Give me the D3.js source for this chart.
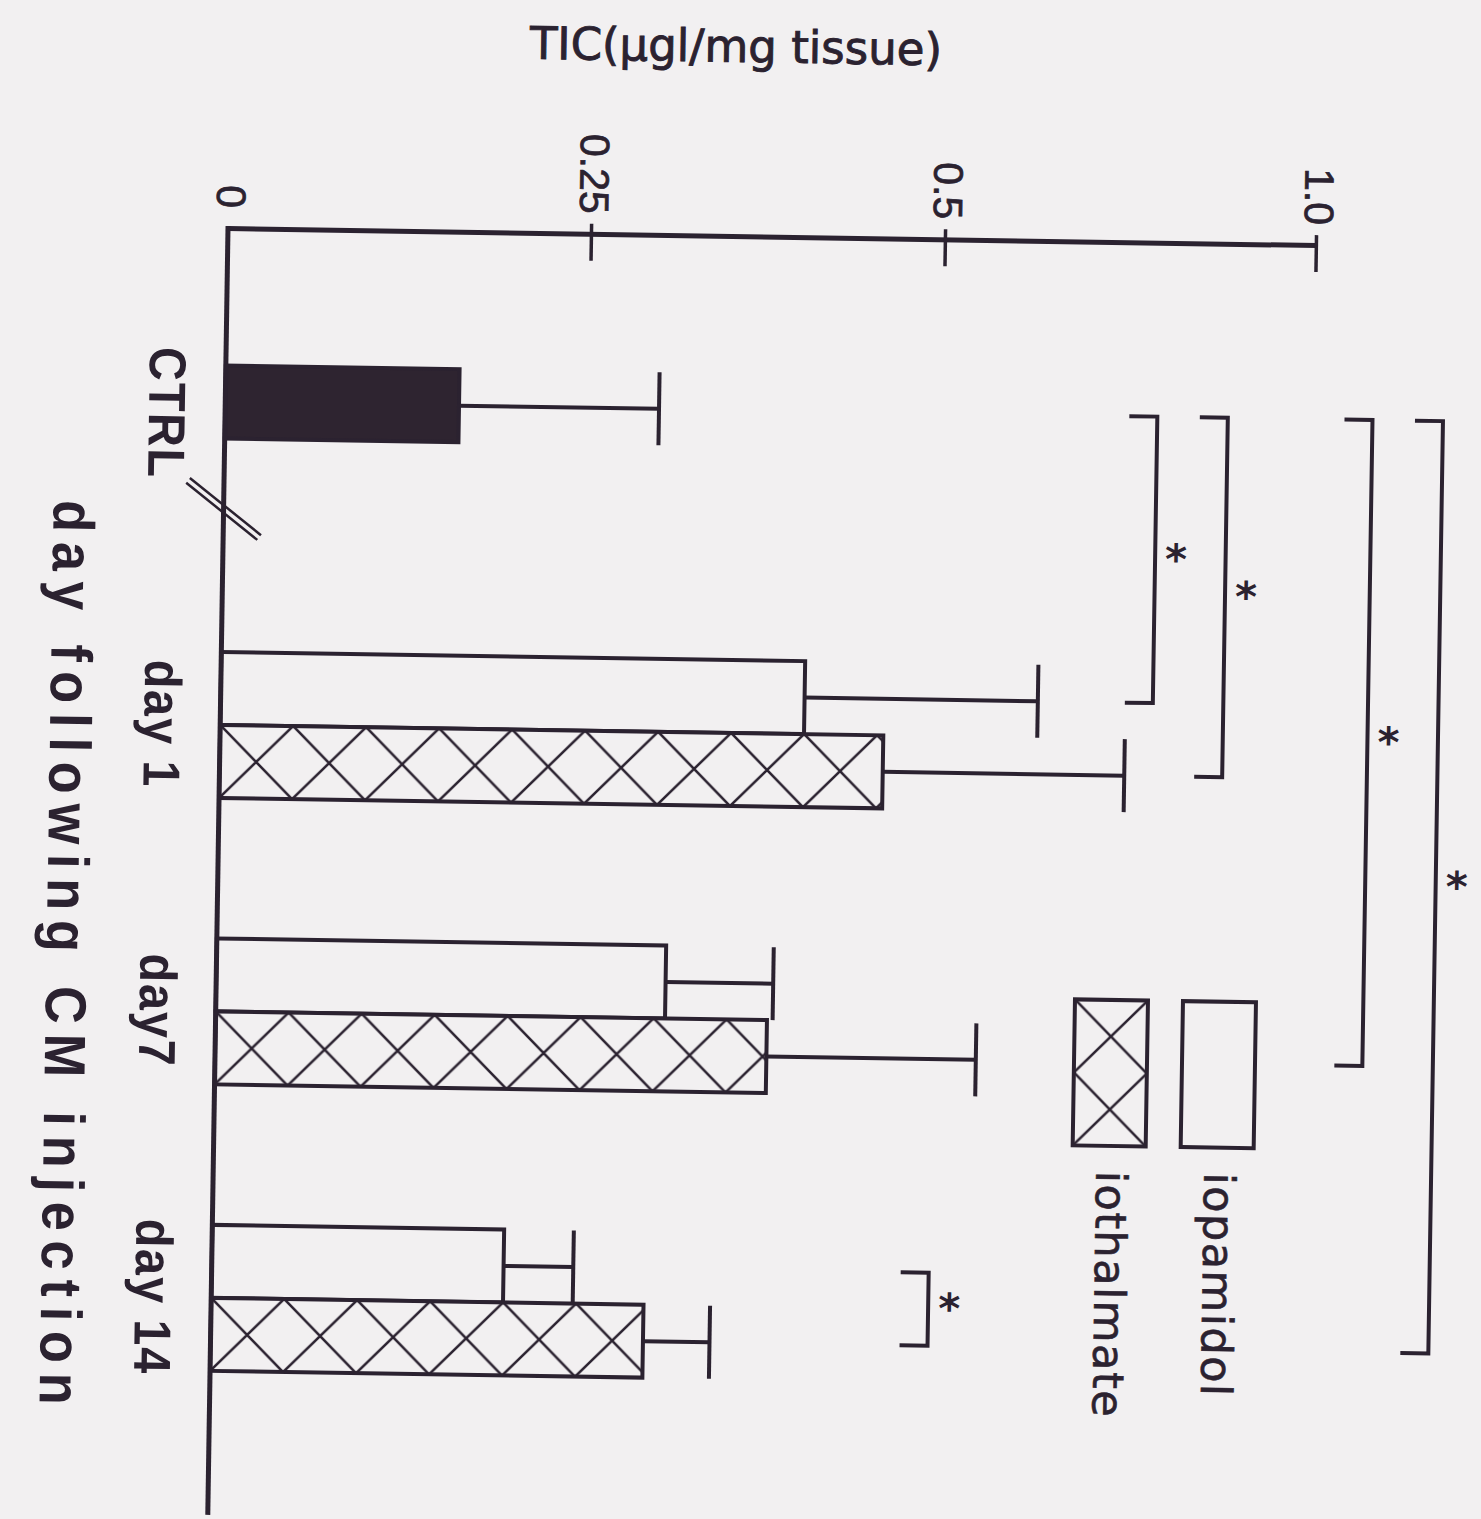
<!DOCTYPE html>
<html><head><meta charset="utf-8">
<script src="https://cdn.jsdelivr.net/npm/d3@7"></script>
<style>html,body{margin:0;padding:0;background:#f2f0f1;} svg{display:block}</style>
</head><body>
<svg id="chart" width="1481" height="1519"></svg>
<script>
// ---------------- data ----------------
const categories = ["CTRL", "day 1", "day7", "day 14"];
const seriesNames = ["iopamidol", "iothalmate"];
const controlMean = 0.161;
const controlSem = 0.139;
const days = ["day 1", "day7", "day 14"];
const iopamidolMean = [0.406, 0.311, 0.201];
const iopamidolSem  = [0.229, 0.076, 0.048];
const iothalmateMean = [0.462, 0.383, 0.299];
const iothalmateSem  = [0.291, 0.176, 0.047];
const tickValues = [0, 0.25, 0.5, 1.0];
const tickLabels = ["0", "0.25", "0.5", "1.0"];
const comparisons = [
  {a: ["CTRL", "iopamidol"], b: ["day 1", "iopamidol"], level: 0.79},
  {a: ["CTRL", "iopamidol"], b: ["day 1", "iothalmate"], level: 0.885},
  {a: ["CTRL", "iopamidol"], b: ["day7", "iothalmate"], level: 1.08},
  {a: ["CTRL", "iopamidol"], b: ["day 14", "iothalmate"], level: 1.175},
  {a: ["day 14", "iopamidol"], b: ["day 14", "iothalmate"], level: 0.50}
];
const titleText = "TIC(\u00b5gl/mg tissue)";
const xTitleText = "day following CM injection";

// ---------------- styles ----------------
const INK = "#2b2230";
const BG = "#f2f0f1";
const svg = d3.select("#chart");
svg.append("rect").attr("width", 1481).attr("height", 1519).attr("fill", BG);
const defs = svg.append("defs");

// whole scanned page is tilted slightly
const g = svg.append("g").attr("transform", "rotate(0.9,228,228)");

// ---------------- scales ----------------
const x = d3.scaleLinear().domain([0, 0.25, 0.5, 1.0]).range([228, 591, 945, 1316]);
const y = d3.scaleBand().domain(categories).range([365.5, 1371]).paddingInner(0.4904).paddingOuter(0);
const ySub = d3.scaleBand().domain(seriesNames).range([0, y.bandwidth()]);
const bh = ySub.bandwidth();
const axisY = 228;

const bars = [{cat: "CTRL", slot: "iopamidol", mean: controlMean, sem: controlSem, kind: "solid"}];
days.forEach((d, i) => {
  bars.push({cat: d, slot: "iopamidol", mean: iopamidolMean[i], sem: iopamidolSem[i], kind: "open"});
  bars.push({cat: d, slot: "iothalmate", mean: iothalmateMean[i], sem: iothalmateSem[i], kind: "hatch"});
});

function hatchPattern(id, px, py, size) {
  const p = defs.append("pattern").attr("id", id).attr("patternUnits", "userSpaceOnUse")
    .attr("x", px).attr("y", py).attr("width", size).attr("height", size);
  p.append("rect").attr("width", size).attr("height", size).attr("fill", BG);
  p.append("path").attr("d", `M0,0L${size},${size}M${size},0L0,${size}`)
    .attr("stroke", INK).attr("stroke-width", 2.6).attr("fill", "none");
}

// ---------------- bars ----------------
bars.forEach((b, i) => {
  const by = y(b.cat) + ySub(b.slot);
  let fill = BG;
  if (b.kind === "solid") fill = "#2e2430";
  if (b.kind === "hatch") { hatchPattern("hatch" + i, x(0), by, bh); fill = `url(#hatch${i})`; }
  g.append("rect").attr("x", x(0)).attr("y", by).attr("width", x(b.mean) - x(0)).attr("height", bh)
    .attr("fill", fill).attr("stroke", INK).attr("stroke-width", 4);
  const cy = by + bh / 2;
  g.append("line").attr("x1", x(b.mean)).attr("x2", x(b.mean + b.sem)).attr("y1", cy).attr("y2", cy)
    .attr("stroke", INK).attr("stroke-width", 4);
  g.append("line").attr("x1", x(b.mean + b.sem)).attr("x2", x(b.mean + b.sem))
    .attr("y1", cy - bh / 2).attr("y2", cy + bh / 2).attr("stroke", INK).attr("stroke-width", 4);
});

// ---------------- axes ----------------
const xAxis = d3.axisBottom(x).tickValues(tickValues).tickFormat((d, i) => tickLabels[i])
  .tickSizeInner(27).tickSizeOuter(0);
const ax = g.append("g").attr("transform", `translate(0,${axisY})`).call(xAxis)
  .attr("font-size", null).attr("font-family", null);
ax.select(".domain").attr("stroke", INK).attr("stroke-width", 5);
ax.selectAll(".tick line").attr("stroke", INK).attr("stroke-width", 3.5).attr("y1", -10)
  .style("display", d => d === 0 ? "none" : null);
ax.selectAll(".tick text").attr("x", null).attr("y", null).attr("dy", null)
  .attr("transform", "translate(-12,-20) rotate(90)").attr("text-anchor", "end")
  .attr("fill", INK).attr("stroke", INK).attr("stroke-width", 0.7)
  .style("font-family", "'Liberation Sans', Arial, sans-serif").style("font-size", "41px");

// category axis line
g.append("line").attr("x1", x(0)).attr("x2", x(0)).attr("y1", axisY - 2).attr("y2", 1515)
  .attr("stroke", INK).attr("stroke-width", 5);

// break mark near CTRL
const bkY = y("CTRL") + 143.5;
[-3, 3].forEach(o => {
  g.append("line").attr("x1", x(0) - 36 + o * 0.6).attr("y1", bkY - 28 - o * 0.8)
    .attr("x2", x(0) + 36 + o * 0.6).attr("y2", bkY + 28 - o * 0.8)
    .attr("stroke", INK).attr("stroke-width", 2.5);
});

// category labels (condensed bold)
categories.forEach(c => {
  const cy = c === "CTRL" ? y(c) + bh / 2 + 12 : y(c) + y.bandwidth() / 2;
  g.append("text").text(c).attr("transform", `translate(152,${cy}) rotate(90) scale(0.9,1)`)
    .attr("text-anchor", "middle").attr("fill", INK)
    .style("font-family", "'Liberation Sans', Arial, sans-serif")
    .style("font-weight", "bold").style("font-size", "52px").style("letter-spacing", "2px");
});

// x-axis title (condensed bold, spaced out)
g.append("text").text(xTitleText).attr("transform", `translate(58,955) rotate(90) scale(0.9,1)`)
  .attr("text-anchor", "middle").attr("fill", INK)
  .attr("textLength", 1005).attr("lengthAdjust", "spacing")
  .style("font-family", "'Liberation Sans', Arial, sans-serif")
  .style("font-weight", "bold").style("font-size", "58px");

// value title
g.append("text").text(titleText).attr("x", 733).attr("y", 54).attr("text-anchor", "middle")
  .attr("fill", INK).attr("stroke", INK).attr("stroke-width", 0.9)
  .style("font-family", "'DejaVu Sans', sans-serif").style("font-size", "45px");

// ---------------- significance brackets ----------------
const center = ([c, s]) => y(c) + ySub(s) + bh / 2;
comparisons.forEach(cmp => {
  const bx = x(cmp.level), y1 = center(cmp.a), y2 = center(cmp.b);
  g.append("path").attr("d", `M${bx - 28},${y1}H${bx}V${y2}H${bx - 28}`)
    .attr("fill", "none").attr("stroke", INK).attr("stroke-width", 4);
  g.append("text").text("*").attr("x", bx + 21).attr("y", (y1 + y2) / 2 + 14)
    .attr("text-anchor", "middle").attr("fill", INK)
    .style("font-family", "'DejaVu Sans', sans-serif").style("font-weight", "bold").style("font-size", "42px");
});

// ---------------- legend ----------------
const legendX = [1195, 1087];
const legendTop = 986;
seriesNames.forEach((s, i) => {
  const lx = legendX[i];
  let fill = BG;
  if (i === 1) { hatchPattern("hatchLegend", lx, legendTop, bh); fill = "url(#hatchLegend)"; }
  g.append("rect").attr("x", lx).attr("y", legendTop).attr("width", bh).attr("height", bh * 2)
    .attr("fill", fill).attr("stroke", INK).attr("stroke-width", 4);
  g.append("text").text(s).attr("transform", `translate(${lx + 24},${legendTop + bh * 2 + 25}) rotate(90)`)
    .attr("fill", INK).attr("stroke", INK).attr("stroke-width", 0.6)
    .style("font-family", "'DejaVu Sans', sans-serif").style("font-size", "43px")
    .style("letter-spacing", "1.5px");
});
</script>
</body></html>
